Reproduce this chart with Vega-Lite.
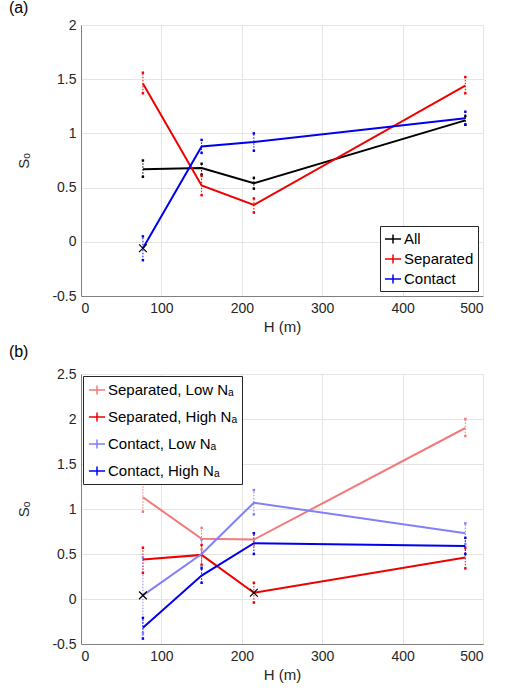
{
  "$schema": "https://vega.github.io/schema/vega-lite/v6.json",
  "padding": {"left": 8, "top": 0, "right": 6, "bottom": 4},
  "config": {
    "font": "Liberation Sans",
    "view": {"stroke": null},
    "axis": {"labelFontSize": 14, "titleFontSize": 15, "labelColor": "#262626", "titleColor": "#262626", "domainColor": "#808080", "gridColor": "#e4e4e4", "ticks": false, "labelPadding": 5, "titleFontWeight": "normal", "labelExpr": "'' + datum.value"},
    "title": {"fontSize": 16, "fontWeight": "normal", "anchor": "start", "color": "#000000"},
    "concat": {"spacing": 10}
  },
  "datasets": {
    "a": [
      {"H": 77, "series": "All", "So": 0.67, "lo": 0.60, "hi": 0.75},
      {"H": 150, "series": "All", "So": 0.68, "lo": 0.62, "hi": 0.72},
      {"H": 215, "series": "All", "So": 0.54, "lo": 0.49, "hi": 0.59},
      {"H": 478, "series": "All", "So": 1.12, "lo": 1.08, "hi": 1.16},
      {"H": 77, "series": "Separated", "So": 1.46, "lo": 1.37, "hi": 1.56},
      {"H": 150, "series": "Separated", "So": 0.52, "lo": 0.43, "hi": 0.61},
      {"H": 215, "series": "Separated", "So": 0.34, "lo": 0.27, "hi": 0.40},
      {"H": 478, "series": "Separated", "So": 1.44, "lo": 1.37, "hi": 1.52},
      {"H": 77, "series": "Contact", "So": -0.06, "lo": -0.17, "hi": 0.05},
      {"H": 150, "series": "Contact", "So": 0.88, "lo": 0.82, "hi": 0.94},
      {"H": 215, "series": "Contact", "So": 0.92, "lo": 0.84, "hi": 1.00},
      {"H": 478, "series": "Contact", "So": 1.14, "lo": 1.08, "hi": 1.20}
    ],
    "b": [
      {"H": 77, "series": "Separated, Low Nₐ", "So": 1.13, "lo": 0.97, "hi": 1.29},
      {"H": 150, "series": "Separated, Low Nₐ", "So": 0.67, "lo": 0.55, "hi": 0.79},
      {"H": 215, "series": "Separated, Low Nₐ", "So": 0.66, "lo": 0.60, "hi": 0.73},
      {"H": 478, "series": "Separated, Low Nₐ", "So": 1.90, "lo": 1.81, "hi": 2.00},
      {"H": 77, "series": "Separated, High Nₐ", "So": 0.44, "lo": 0.29, "hi": 0.57},
      {"H": 150, "series": "Separated, High Nₐ", "So": 0.49, "lo": 0.38, "hi": 0.60},
      {"H": 215, "series": "Separated, High Nₐ", "So": 0.07, "lo": -0.04, "hi": 0.18},
      {"H": 478, "series": "Separated, High Nₐ", "So": 0.46, "lo": 0.34, "hi": 0.57},
      {"H": 77, "series": "Contact, Low Nₐ", "So": 0.04, "lo": -0.38, "hi": 0.46},
      {"H": 150, "series": "Contact, Low Nₐ", "So": 0.50, "lo": 0.36, "hi": 0.66},
      {"H": 215, "series": "Contact, Low Nₐ", "So": 1.07, "lo": 0.94, "hi": 1.21},
      {"H": 478, "series": "Contact, Low Nₐ", "So": 0.73, "lo": 0.61, "hi": 0.84},
      {"H": 77, "series": "Contact, High Nₐ", "So": -0.32, "lo": -0.44, "hi": -0.21},
      {"H": 150, "series": "Contact, High Nₐ", "So": 0.26, "lo": 0.18, "hi": 0.34},
      {"H": 215, "series": "Contact, High Nₐ", "So": 0.62, "lo": 0.50, "hi": 0.73},
      {"H": 478, "series": "Contact, High Nₐ", "So": 0.59, "lo": 0.50, "hi": 0.68}
    ],
    "xa": [{"H": 77, "So": -0.06}],
    "xb": [{"H": 77, "So": 0.04}, {"H": 215, "So": 0.07}]
  },
  "vconcat": [
    {
      "title": {"text": "(a)", "dx": -8, "offset": 2},
      "width": 402,
      "height": 271,
      "encoding": {
        "x": {"field": "H", "type": "quantitative", "title": "H (m)", "scale": {"domain": [0, 500], "nice": false}, "axis": {"values": [0, 100, 200, 300, 400, 500], "titlePadding": 4}},
        "color": {"field": "series", "type": "nominal", "scale": {"domain": ["All", "Separated", "Contact"], "range": ["#000000", "#F00000", "#0000F0"]},
          "legend": {"title": null, "orient": "bottom-right", "offset": 5, "fillColor": "#ffffff", "strokeColor": "#262626", "padding": 4, "labelFontSize": 15, "labelColor": "#000000", "symbolType": "M-1,0H1M0,-0.55V0.55", "symbolSize": 260, "symbolStrokeWidth": 1.5, "symbolFillColor": "transparent", "rowPadding": 3, "labelOffset": 2}}
      },
      "layer": [
        {"data": {"name": "a"}, "mark": {"type": "rule", "strokeDash": [1.5, 1.5], "strokeWidth": 1},
          "encoding": {"y": {"field": "lo", "type": "quantitative", "title": "Sₒ", "scale": {"domain": [-0.5, 2], "nice": false}, "axis": {"values": [-0.5, 0, 0.5, 1, 1.5, 2], "titlePadding": 20}}, "y2": {"field": "hi"}}},
        {"data": {"name": "a"}, "mark": {"type": "point", "shape": "square", "filled": true, "size": 6, "opacity": 1},
          "encoding": {"y": {"field": "lo", "type": "quantitative"}}},
        {"data": {"name": "a"}, "mark": {"type": "point", "shape": "square", "filled": true, "size": 6, "opacity": 1},
          "encoding": {"y": {"field": "hi", "type": "quantitative"}}},
        {"data": {"name": "a"}, "mark": {"type": "line", "strokeWidth": 2},
          "encoding": {"y": {"field": "So", "type": "quantitative"}}},
        {"data": {"name": "xa"}, "mark": {"type": "point", "shape": "M-1,-1L1,1M-1,1L1,-1", "filled": false, "size": 60, "strokeWidth": 1.2, "opacity": 1},
          "encoding": {"y": {"field": "So", "type": "quantitative"}, "color": {"value": "#000000"}}}
      ]
    },
    {
      "title": {"text": "(b)", "dx": -8, "offset": 7},
      "width": 402,
      "height": 270,
      "encoding": {
        "x": {"field": "H", "type": "quantitative", "title": "H (m)", "scale": {"domain": [0, 500], "nice": false}, "axis": {"values": [0, 100, 200, 300, 400, 500], "titlePadding": 4}},
        "color": {"field": "series", "type": "nominal", "scale": {"domain": ["Separated, Low Nₐ", "Separated, High Nₐ", "Contact, Low Nₐ", "Contact, High Nₐ"], "range": ["#F27A7A", "#F00000", "#8080F8", "#0000F0"]},
          "legend": {"title": null, "orient": "top-left", "offset": 2, "fillColor": "#ffffff", "strokeColor": "#262626", "padding": 5, "labelFontSize": 15, "labelColor": "#000000", "symbolType": "M-1,0H1M0,-0.55V0.55", "symbolSize": 260, "symbolStrokeWidth": 1.5, "symbolFillColor": "transparent", "rowPadding": 10, "labelOffset": 2}}
      },
      "layer": [
        {"data": {"name": "b"}, "mark": {"type": "rule", "strokeDash": [1.5, 1.5], "strokeWidth": 1},
          "encoding": {"y": {"field": "lo", "type": "quantitative", "title": "Sₒ", "scale": {"domain": [-0.5, 2.5], "nice": false}, "axis": {"values": [-0.5, 0, 0.5, 1, 1.5, 2, 2.5], "titlePadding": 20}}, "y2": {"field": "hi"}}},
        {"data": {"name": "b"}, "mark": {"type": "point", "shape": "square", "filled": true, "size": 6, "opacity": 1},
          "encoding": {"y": {"field": "lo", "type": "quantitative"}}},
        {"data": {"name": "b"}, "mark": {"type": "point", "shape": "square", "filled": true, "size": 6, "opacity": 1},
          "encoding": {"y": {"field": "hi", "type": "quantitative"}}},
        {"data": {"name": "b"}, "mark": {"type": "line", "strokeWidth": 2},
          "encoding": {"y": {"field": "So", "type": "quantitative"}}},
        {"data": {"name": "xb"}, "mark": {"type": "point", "shape": "M-1,-1L1,1M-1,1L1,-1", "filled": false, "size": 60, "strokeWidth": 1.2, "opacity": 1},
          "encoding": {"y": {"field": "So", "type": "quantitative"}, "color": {"value": "#000000"}}}
      ]
    }
  ],
  "resolve": {"scale": {"color": "independent", "y": "independent"}, "legend": {"color": "independent"}}
}
